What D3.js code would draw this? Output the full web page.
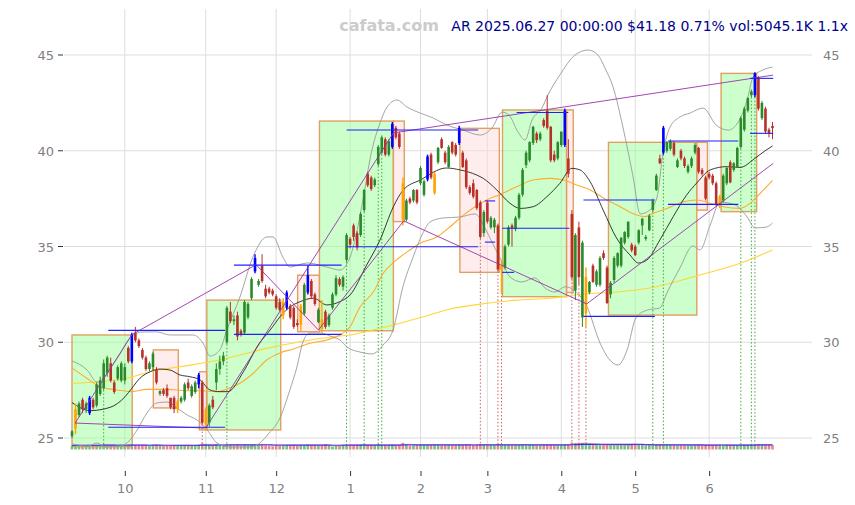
<!DOCTYPE html>
<html><head><meta charset="utf-8">
<script src="https://cdn.jsdelivr.net/npm/d3@7"></script>
<style>body{margin:0;background:#fff}svg{display:block;font-family:"DejaVu Sans",sans-serif}</style>
</head><body><svg id="c" width="855" height="505"></svg>
<script>
// ---------- DATA ----------
const monthDays = [
 ["2024-09",[10,11,12,13,16,17,18,19,20,23,24,25,26,27,30]],
 ["2024-10",[1,2,3,4,7,8,9,10,11,14,15,16,17,18,21,22,23,24,25,28,29,30,31]],
 ["2024-11",[1,4,5,6,7,8,11,12,13,14,15,18,19,20,21,22,25,26,27,29]],
 ["2024-12",[2,3,4,5,6,9,10,11,12,13,16,17,18,19,20,23,24,26,27,30,31]],
 ["2025-01",[2,3,6,7,8,10,13,14,15,16,17,21,22,23,24,27,28,29,30,31]],
 ["2025-02",[3,4,5,6,7,10,11,12,13,14,18,19,20,21,24,25,26,27,28]],
 ["2025-03",[3,4,5,6,7,10,11,12,13,14,17,18,19,20,21,24,25,26,27,28,31]],
 ["2025-04",[1,2,3,4,7,8,9,10,11,14,15,16,17,21,22,23,24,25,28,29,30]],
 ["2025-05",[1,2,5,6,7,8,9,12,13,14,15,16,19,20,21,22,23,27,28,29,30]],
 ["2025-06",[2,3,4,5,6,9,10,11,12,13,16,17,18,20,23,24,25,26,27]]
];
const dates = monthDays.flatMap(([m, ds]) => ds.map(d => m + "-" + String(d).padStart(2, "0")));

// [open, high, low, close]
const ohlc = [
 // Sep
 [25.1,25.4,25.0,25.35],[25.5,26.8,25.2,26.5],[26.2,26.9,26.1,26.8],[27.0,27.1,26.3,26.5],[26.5,26.9,26.3,26.8],
 [26.3,27.2,26.2,27.1],[27.0,27.1,26.5,26.6],[26.7,27.9,26.6,27.8],[27.3,28.2,27.2,28.0],[27.6,29.1,27.5,28.9],
 [28.4,29.3,28.2,29.2],[28.9,29.2,27.9,28.0],[27.9,28.0,27.3,27.4],[28.1,28.8,28.0,28.7],[28.0,29.0,27.9,28.9],
 // Oct
 [28.0,28.9,27.8,28.7],[29.7,29.8,28.9,29.0],[29.0,30.5,28.9,30.4],[30.5,30.8,30.0,30.1],[30.1,30.2,29.7,29.8],
 [29.6,29.7,29.1,29.2],[29.2,29.3,28.5,28.6],[28.6,29.0,28.5,28.9],[28.7,29.5,28.5,29.4],[28.6,28.7,27.8,27.9],
 [27.3,27.5,27.2,27.45],[27.5,27.6,27.2,27.3],[27.6,27.8,27.1,27.2],[27.1,27.1,26.5,26.6],[27.1,27.2,26.3,26.5],
 [26.5,27.0,26.3,26.9],[26.9,27.2,26.8,27.1],[27.0,27.9,26.9,27.8],[27.9,28.1,27.5,27.6],[27.2,27.8,27.1,27.7],
 [27.4,28.0,27.3,27.9],[27.8,28.4,27.6,28.3],[27.9,28.0,25.7,25.8],
 // Nov
 [25.7,26.6,25.4,26.5],[25.8,26.8,25.6,26.7],[27.0,27.2,26.5,26.6],[27.9,28.9,27.5,28.6],[28.6,29.3,28.3,29.0],
 [29.0,29.5,28.8,29.3],[30.0,31.9,29.9,31.8],[31.6,32.1,31.0,31.1],[31.1,31.4,30.9,31.2],[31.4,31.6,30.1,30.3],
 [30.6,30.7,30.3,30.4],[30.5,32.2,30.4,32.1],[31.3,32.1,31.2,32.0],[32.3,33.4,32.2,33.3],[33.7,34.6,33.6,34.4],
 [33.0,33.3,32.9,33.2],[34.0,34.6,33.1,33.2],[32.8,33.0,32.3,32.4],[32.8,32.9,32.5,32.6],[32.7,32.8,32.4,32.5],
 // Dec
 [32.4,32.5,31.7,31.8],[32.1,32.3,31.6,31.7],[31.4,32.3,31.2,32.1],[31.8,32.7,31.7,32.6],[31.9,32.0,31.2,31.3],
 [31.8,31.9,30.7,30.8],[31.0,31.2,30.8,30.9],[30.9,32.0,30.6,31.9],[31.5,33.1,31.4,33.0],[32.6,34.0,32.5,33.5],
 [33.2,33.3,32.3,32.4],[32.5,32.6,31.9,32.0],[31.05,31.8,31.0,31.7],[31.2,32.2,30.5,30.7],[31.6,31.7,30.7,30.8],
 [30.9,31.5,30.8,31.4],[31.8,32.6,31.7,32.5],[32.5,33.5,32.4,33.35],[33.3,33.4,32.9,33.0],[32.9,33.5,32.7,33.4],
 [34.3,35.7,34.2,35.6],
 // Jan
 [35.4,35.5,34.9,35.1],[36.1,36.2,35.3,35.5],[35.7,35.8,34.8,34.95],[35.6,36.8,35.5,36.7],[36.9,38.0,36.8,37.95],
 [38.8,38.9,38.1,38.2],[38.6,38.7,37.9,38.0],[38.2,38.6,38.1,38.5],[39.3,40.3,39.2,40.2],[39.9,40.8,39.8,40.7],
 [40.6,40.7,39.7,39.8],[39.8,40.6,39.7,40.5],[40.2,41.5,40.1,41.4],[41.2,41.3,40.6,40.7],[40.9,41.0,40.1,40.2],
 [38.3,38.6,36.1,36.4],[36.4,37.5,36.3,37.4],[37.5,37.6,37.2,37.3],[37.4,38.0,37.3,37.95],[37.95,38.0,37.2,37.3],
 // Feb
 [38.3,39.2,38.2,39.1],[37.7,38.5,37.6,38.4],[38.5,39.8,38.4,39.7],[39.8,39.9,38.5,38.6],[37.8,38.9,37.7,38.8],
 [39.4,40.2,39.3,40.15],[40.6,40.7,40.1,40.15],[39.9,40.0,39.3,39.4],[39.15,40.3,39.1,40.2],[40.45,40.5,39.8,39.9],
 [40.3,40.4,39.7,39.8],[40.4,41.3,40.3,41.2],[39.9,40.0,39.1,39.15],[39.5,39.6,38.0,38.1],[38.1,38.2,37.7,37.8],
 [38.3,38.5,37.5,37.6],[37.95,38.0,36.9,37.0],[37.3,37.4,35.4,35.5],[35.7,36.9,35.5,36.8],
 // Mar
 [37.3,37.4,36.2,36.3],[36.0,36.6,35.9,36.5],[36.0,36.5,35.7,36.4],[36.1,36.2,33.7,33.8],[33.8,34.3,32.6,34.0],
 [33.9,35.1,33.8,35.0],[35.1,36.1,35.0,36.0],[36.1,36.2,35.0,35.95],[35.9,36.6,35.8,36.5],[36.5,37.8,36.4,37.7],
 [37.7,39.1,37.6,39.0],[39.25,40.0,39.1,39.9],[39.5,40.5,39.4,40.45],[40.4,41.3,40.3,41.25],[40.9,41.0,40.4,40.55],
 [40.6,41.0,40.5,40.9],[41.6,41.7,41.2,41.3],[42.1,42.9,41.1,41.2],[41.25,41.3,39.4,39.5],[39.8,40.0,39.4,39.5],
 [39.6,40.5,39.5,40.45],
 // Apr
 [40.3,41.0,40.2,41.0],[40.3,42.2,40.2,42.1],[39.6,40.6,38.6,38.8],[36.7,36.9,33.3,33.4],[32.7,35.7,32.2,35.6],
 [36.0,36.3,33.0,33.4],[31.3,35.3,30.8,35.2],[31.5,33.9,30.8,33.4],[32.6,33.2,32.5,33.15],[34.0,34.1,33.1,33.15],
 [33.0,33.8,32.9,33.7],[33.0,34.5,32.9,34.4],[34.65,34.8,34.3,34.4],[33.9,34.0,32.0,32.05],[32.5,33.2,32.3,33.1],
 [33.25,34.5,33.1,34.4],[34.0,34.7,33.9,34.65],[34.0,35.5,33.9,35.45],[35.2,35.8,35.1,35.75],[35.5,36.3,35.4,36.3],
 [35.1,35.2,34.7,34.8],
 // May
 [35.0,35.1,34.5,34.55],[35.2,35.9,35.1,35.85],[36.1,36.5,35.6,36.45],[35.4,35.6,35.3,35.5],[35.85,36.7,35.8,36.6],
 [36.9,37.5,36.8,37.4],[37.95,38.8,37.9,38.7],[39.6,39.8,39.3,39.35],[39.9,41.3,39.8,41.2],[40.0,40.5,39.9,40.45],
 [40.1,40.6,40.0,40.5],[40.4,40.5,39.7,39.8],[39.15,39.6,39.1,39.5],[40.0,40.1,39.5,39.6],[39.6,39.7,39.1,39.2],
 [38.9,39.3,38.8,39.2],[39.2,39.7,39.1,39.6],[39.9,40.4,39.8,40.3],[40.15,40.2,38.8,38.9],[39.0,39.1,38.7,38.8],
 [38.6,38.7,37.4,37.5],
 // Jun
 [38.8,38.9,38.5,38.6],[38.7,38.8,38.2,38.3],[38.3,38.4,37.1,37.2],[37.1,37.7,37.0,37.6],[37.4,38.8,37.3,38.7],
 [38.3,39.2,38.2,39.1],[39.4,39.5,38.3,38.35],[39.0,39.4,38.9,39.35],[39.15,40.2,39.1,40.15],[40.2,41.8,40.1,41.7],
 [41.1,42.3,41.0,42.2],[42.1,42.8,42.0,42.75],[42.9,43.2,42.8,43.1],[42.9,44.1,42.8,44.05],[43.85,43.9,42.1,42.2],
 [41.7,42.6,41.6,42.5],[42.2,42.3,40.9,41.0],[41.1,41.2,40.7,40.89],[41.3,41.5,40.6,41.18]
];

// volume, thousands of shares
const volumes = [
 3900,5200,4600,4100,3800,5400,4300,4700,5600,6100,4400,5000,3900,4200,4800,
 4100,5300,6200,4500,3900,4400,4800,3700,5100,5500,3600,3400,4000,4600,5200,4300,3800,5000,4100,3900,4400,5800,9500,
 8000,5400,4700,6900,5200,4800,7800,5600,4300,5700,3900,6000,4600,5800,7000,4400,5900,4600,3800,2600,
 5100,4200,5300,4800,4500,5600,3900,5400,5000,6300,4700,4900,4100,4600,7200,4000,2400,3300,3800,4500,5200,
 5600,4900,5300,6400,6800,5500,4700,4200,6900,6100,4800,5200,6300,4600,5100,11000,6400,4500,4300,4900,
 5300,5000,5800,5400,6200,5600,4400,4900,5200,4600,4300,6100,5200,5900,4700,5000,6300,7200,5800,
 5100,4800,4500,8200,7000,5900,5500,4600,4800,5300,6400,6000,5200,5600,4300,4700,5100,6500,5300,4800,5000,
 4900,6300,6100,12500,10500,9000,11000,9500,6800,5900,5500,6200,5100,6400,5200,5400,4800,5600,4600,5000,5300,
 8500,5800,5200,4100,4900,5400,6300,5700,7500,6000,5100,4800,4400,4600,4200,3900,4100,4700,5300,4500,5600,
 5200,4800,5100,5900,4700,5300,5500,4600,4900,5400,6100,5800,5200,5000,6800,6200,5300,5600,5045.1
];

const pivotHighs = [5,17,36,52,61,67,91,101,110,140,168,194];   // blue candles
const pivotLows  = [1,30,38,60,65,71,94,103,122,146,184];       // orange candles
const buySignals  = [9,44,78,83,87,88,165,168,190,193,194];
const sellSignals = [37,116,121,122,142,144,146];

// [fromIndex, toIndex, top, bottom, kind]
const boxes = [
 [0,17.1,30.38,24.55,"up"],[23.1,30.2,29.6,26.57,"down"],[36.2,38.3,28.46,25.42,"down"],
 [38.3,59.3,32.2,25.42,"up"],[64.1,70.3,33.5,30.55,"down"],[70.3,91.3,41.55,30.6,"up"],
 [91.3,94.4,41.55,36.3,"down"],[110.2,121.4,41.17,33.65,"down"],[122.3,140.5,42.13,32.38,"up"],
 [140.5,142.4,42.13,32.6,"down"],[152.4,177.5,40.44,31.42,"up"],[177.5,180.5,40.44,36.9,"down"],
 [184.4,194.5,44.04,36.82,"up"]
];
// [fromIndex, toIndex, price]
const levels = [
 [10.3,43.5,30.62],[10.3,43.5,25.56],[46,76.6,34.03],[46,76.6,30.41],[78,115.4,41.08],[78,115.4,34.99],
 [117.3,120.2,37.38],[117.3,120.2,35.23],[122.2,125.6,33.65],[126.3,141,42.0],[122.2,141.3,35.95],
 [145.3,165.6,37.43],[145.3,165.6,31.35],[169.3,189.3,40.51],[169.3,189.3,37.2],[192.6,199.2,43.78],[192.6,199.2,40.91]
];
// [i0, price0, i1, price1]
const trendLines = [
 [0.9,25.78,37.8,25.52],[0.9,25.78,17.05,30.4],[17.05,30.4,52.3,34.05],[52.3,34.05,70,30.64],
 [38,25.52,91.3,40.93],[70,30.64,94.3,36.35],[94.3,36.33,146.2,32.0],[146.2,32.0,199.2,39.34],[91.3,40.93,199.2,43.95]
];
// indicator readings [index, price]
const ma20Pts = [[0,26.85],[5.1,26.43],[10.8,26.6],[15.1,27.16],[17,27.6],[19.3,28.12],[22.2,28.46],[25,28.6],[27.8,28.55],
 [30.7,28.29],[33.5,28.2],[36.4,28.03],[39.2,27.51],[42,27.42],[44.3,27.42],[48.7,28.46],[52.9,29.86],[56.3,30.64],[59.1,31.33],
 [61.4,31.77],[64.8,32.12],[68.6,32.3],[72.4,31.95],[76.1,32.12],[79,32.47],[83.7,34.03],[87.5,35.34],[91.3,37.08],[94.1,37.95],
 [98.9,38.47],[106.4,39.1],[110.2,39.0],[115,38.73],[116.8,38.56],[120.7,37.95],[124.4,37.26],[127.3,36.99],[131,37.08],
 [134.9,37.6],[138.6,38.3],[142,39.08],[144.3,39.0],[147.2,38.38],[150.9,36.9],[154.7,35.44],[158.5,34.56],[160.9,34.14],
 [163.3,34.29],[167,35.34],[170.8,36.56],[174.6,37.69],[177.5,38.32],[181.3,39.0],[186,39.17],[189.8,39.13],[194,39.6],
 [196.9,40.0],[199,40.25]];
const ma50Pts = [[0,28.66],[4.2,28.12],[8,27.68],[12.7,27.51],[17,27.42],[21.2,27.54],[26.9,27.54],[32.6,27.47],[36.4,27.47],
 [41.1,27.42],[44,27.56],[47.7,27.86],[51.5,28.38],[55.3,29.07],[59.1,29.44],[62.9,29.65],[67.6,29.95],[72.4,30.12],[76.1,30.38],
 [79,30.81],[81.8,31.84],[85.6,32.62],[88.4,33.6],[92.2,34.3],[96,34.82],[98.9,35.17],[103.6,35.5],[107.4,36.03],[111.2,36.64],
 [114.5,37.08],[117.8,37.43],[121.6,37.72],[126.3,38.12],[131,38.47],[135.8,38.56],[139.6,38.47],[143.4,38.21],[147.2,37.95],
 [151.9,37.43],[155.7,37.08],[160.4,36.64],[162.8,36.56],[165.1,36.73],[169,36.99],[173.7,37.34],[177.5,37.43],[181.3,37.26],
 [185,37.08],[189.8,36.99],[192.6,37.25],[195.9,37.85],[199,38.45]];
const ma200Pts = [[0,27.86],[8,27.94],[15.5,28.12],[23.1,28.51],[30.7,28.72],[39.2,28.98],[47.7,29.33],[55.3,29.68],[64.8,30.03],
 [74.2,30.29],[79,30.38],[85.6,30.64],[99.8,31.33],[107.4,31.74],[114.5,31.95],[126.3,32.2],[135.8,32.3],[145.3,32.52],
 [154.8,32.62],[164.2,32.83],[178.4,33.51],[189.8,34.12],[199,34.82]];
const bbUpperPts = [[0,29.02],[4.3,28.55],[7.1,27.92],[8.8,28.13],[13.1,29.23],[17,30.33],[20.2,30.54],[24.1,30.54],[27.8,30.38],
 [34.4,30.38],[37.2,29.96],[39.2,29.28],[42,29.6],[44,30.64],[47.7,32.36],[51.4,34.45],[55.4,35.5],[57.1,35.5],[59.9,34.45],
 [61.9,33.93],[66.8,34.14],[72.4,33.93],[76.1,33.77],[79,34.45],[80.7,35.6],[82.9,37.69],[84.9,39.78],[87.5,41.45],[89.5,42.28],
 [92.3,42.65],[95.2,42.28],[98.9,41.97],[102.6,41.71],[106.5,41.34],[111.1,41.08],[115.9,40.82],[119.3,41.19],[122.2,42.02],
 [124.1,41.87],[126.7,40.98],[128.7,40.56],[130.7,41.61],[133.5,42.23],[135.2,42.91],[138.6,43.96],[142.9,45.0],[146.6,45.26],
 [149.4,45.0],[151.4,44.32],[153.7,43.33],[156.5,41.24],[159.4,38.63],[161.4,36.7],[164.2,36.91],[166.2,37.58],[167.9,39.88],
 [169.9,41.24],[172.7,41.76],[175.6,41.97],[179.3,42.23],[183,41.34],[186.4,41.08],[188.9,41.4],[191.8,42.65],[193.5,43.85],
 [196.3,44.22],[199,44.37]];
const bbLowerPts = [[0,24.69],[4.5,24.58],[7.1,24.74],[9.4,24.53],[13.6,24.58],[16.5,24.9],[18.5,25.42],[21.3,26.31],[24.1,26.83],
 [27,26.88],[29.8,26.57],[32.7,26.2],[35.5,25.94],[38.4,25.42],[41.2,24.74],[44.9,24.53],[50.6,24.53],[53.4,24.74],[56,25.26],
 [58.8,25.94],[61.9,27.51],[63.9,28.71],[65.6,30.01],[67.6,30.48],[70.5,30.48],[74.1,30.27],[76.1,30.12],[78.1,29.75],[81.8,29.49],
 [85.2,29.39],[88.4,29.86],[91.2,30.64],[94,32.89],[96.9,34.45],[99.7,35.71],[101.7,36.28],[105.4,36.49],[110.2,36.54],
 [114.5,36.7],[117.3,35.97],[119.3,35.23],[122.2,34.19],[124.4,33.41],[127.8,33.15],[131.5,33.36],[134.4,32.83],[137.2,32.62],
 [140.1,32.9],[143.4,32.6],[146.2,31.9],[150,29.96],[152.8,29.07],[155.1,28.81],[157.7,29.6],[160.2,31.27],[163.4,31.68],
 [167,31.79],[169,32.57],[172.7,33.88],[176.4,35.03],[178.4,34.82],[181.3,36.12],[184.1,37.32],[188.4,37.17],[191.8,36.54],
 [194,35.97],[197.4,36.02],[199,36.23]];

const yTicks = [25, 30, 35, 40, 45];
const watermark = "cafata.com";
const title = "AR 2025.06.27 00:00:00 $41.18 0.71% vol:5045.1K 1.1x";

// ---------- DRAW ----------
const svg = d3.select("#c");
const x = d3.scaleLinear().domain([0, dates.length - 1]).range([72, 772.5]);
const y = d3.scaleLinear().domain([25, 45]).range([438, 55]);
const vh = d3.scaleSqrt().domain([0, 12500]).range([0, 7]);
const vy = v => 449.5 - vh(v);

const monthTicks = [];
dates.forEach((d, i) => { if (i > 0 && d.slice(0, 7) !== dates[i - 1].slice(0, 7)) monthTicks.push({ i, label: String(+d.slice(5, 7)) }); });

// grid
const g = svg.append("g");
g.selectAll(".hg").data(yTicks).join("line").attr("x1", 64).attr("x2", 812)
  .attr("y1", d => y(d)).attr("y2", d => y(d)).attr("stroke", "#dddddd").attr("stroke-width", 1);
g.selectAll(".vg").data(monthTicks).join("line").attr("x1", d => x(d.i)).attr("x2", d => x(d.i))
  .attr("y1", 9).attr("y2", 457).attr("stroke", "#dddddd").attr("stroke-width", 1);

// axes labels
g.selectAll(".yl").data(yTicks).join("text").attr("x", 54).attr("y", d => y(d) + 5).attr("text-anchor", "end")
  .attr("font-size", 13).attr("fill", "#808080").text(d => d);
g.selectAll(".yr").data(yTicks).join("text").attr("x", 823).attr("y", d => y(d) + 5).attr("text-anchor", "start")
  .attr("font-size", 13).attr("fill", "#808080").text(d => d);
g.selectAll(".yt").data(yTicks).join("line").attr("x1", 58).attr("x2", 63).attr("y1", d => y(d)).attr("y2", d => y(d))
  .attr("stroke", "#333").attr("stroke-width", 1);
const xAxis = d3.axisBottom(x).tickValues(monthTicks.map(d => d.i))
  .tickFormat((d, k) => monthTicks[k].label).tickSize(5).tickPadding(8);
const ax = svg.append("g").attr("transform", "translate(0,471)").call(xAxis);
ax.select(".domain").remove();
ax.selectAll("text").attr("font-size", 13).attr("fill", "#808080").attr("font-family", "DejaVu Sans");
ax.selectAll("line").attr("stroke", "#333");

// boxes
svg.append("g").selectAll("rect").data(boxes).join("rect")
  .attr("x", d => x(d[0])).attr("width", d => x(d[1]) - x(d[0]))
  .attr("y", d => y(d[2])).attr("height", d => y(d[3]) - y(d[2]))
  .attr("fill", d => d[4] === "up" ? "#99ff99" : "#ffdcdc").attr("fill-opacity", 0.5)
  .attr("stroke", "#e0a060").attr("stroke-width", 1.4);

// signal dotted verticals
svg.append("g").selectAll("line").data(buySignals.map(i => ({ i, c: "#40a840" })).concat(sellSignals.map(i => ({ i, c: "#cc6060" }))))
  .join("line").attr("x1", d => x(d.i)).attr("x2", d => x(d.i))
  .attr("y1", d => y(ohlc[d.i][2])).attr("y2", 448)
  .attr("stroke", d => d.c).attr("stroke-width", 1).attr("stroke-dasharray", "1.5,2");

// volume
const vg = svg.append("g");
vg.selectAll("rect").data(volumes).join("rect")
  .attr("x", (d, i) => x(i) - 1.3).attr("width", 2.6)
  .attr("y", d => vy(d)).attr("height", d => 449.5 - vy(d))
  .attr("fill", (d, i) => ohlc[i][3] >= ohlc[i][0] ? "#7cbf7c" : "#e08a8a");
const rollMean = (arr, n) => arr.map((v, i) => d3.mean(arr.slice(Math.max(0, i - n + 1), i + 1)));
const volLine = d3.line().x((d, i) => x(i)).y(d => vy(d));
vg.append("path").attr("d", volLine(rollMean(volumes, 20))).attr("fill", "none").attr("stroke", "#3030ff").attr("stroke-width", 1.2);
vg.append("path").attr("d", volLine(rollMean(volumes, 5))).attr("fill", "none").attr("stroke", "#b040a0").attr("stroke-width", 0.8).attr("stroke-opacity", 0.7);

// indicator lines
const ln = d3.line().x(d => x(d[0])).y(d => y(d[1])).curve(d3.curveMonotoneX);
const ind = svg.append("g").attr("fill", "none");
ind.append("path").attr("d", ln(ma200Pts)).attr("stroke", "#ffd633").attr("stroke-width", 1.1);
ind.append("path").attr("d", ln(ma50Pts)).attr("stroke", "#ffab30").attr("stroke-width", 1.1);
ind.append("path").attr("d", ln(bbUpperPts)).attr("stroke", "#9a9a9a").attr("stroke-width", 0.9);
ind.append("path").attr("d", ln(bbLowerPts)).attr("stroke", "#9a9a9a").attr("stroke-width", 0.9);
ind.append("path").attr("d", ln(ma20Pts)).attr("stroke", "#222").attr("stroke-width", 0.9);

// candles
const candleColor = i => pivotHighs.includes(i) ? "#0000ff" : pivotLows.includes(i) ? "#ffa500" : (ohlc[i][3] >= ohlc[i][0] ? "#2a8a2a" : "#b83028");
const cg = svg.append("g");
cg.selectAll("line").data(ohlc).join("line")
  .attr("x1", (d, i) => x(i)).attr("x2", (d, i) => x(i)).attr("y1", d => y(d[1])).attr("y2", d => y(d[2]))
  .attr("stroke", (d, i) => candleColor(i)).attr("stroke-width", (d, i) => pivotHighs.includes(i) || pivotLows.includes(i) ? 1.4 : 1);
cg.selectAll("rect").data(ohlc).join("rect")
  .attr("x", (d, i) => x(i) - 1.3).attr("width", 2.6)
  .attr("y", d => y(Math.max(d[0], d[3]))).attr("height", d => Math.max(0.8, Math.abs(y(d[0]) - y(d[3]))))
  .attr("fill", (d, i) => candleColor(i));

// trend lines
svg.append("g").selectAll("line").data(trendLines).join("line")
  .attr("x1", d => x(d[0])).attr("y1", d => y(d[1])).attr("x2", d => x(d[2])).attr("y2", d => y(d[3]))
  .attr("stroke", "#9933aa").attr("stroke-width", 1).attr("stroke-opacity", 0.9);

// support / resistance levels
svg.append("g").selectAll("line").data(levels).join("line")
  .attr("x1", d => x(d[0])).attr("x2", d => x(d[1])).attr("y1", d => y(d[2])).attr("y2", d => y(d[2]))
  .attr("stroke", "#2020ff").attr("stroke-width", 1.1);

// titles
svg.append("text").attr("x", 389).attr("y", 31).attr("text-anchor", "middle").attr("font-size", 16)
  .attr("font-weight", "bold").attr("fill", "#cccccc").text(watermark);
svg.append("text").attr("x", 848).attr("y", 31).attr("text-anchor", "end").attr("font-size", 14)
  .attr("fill", "#00008b").text(title);
</script></body></html>
